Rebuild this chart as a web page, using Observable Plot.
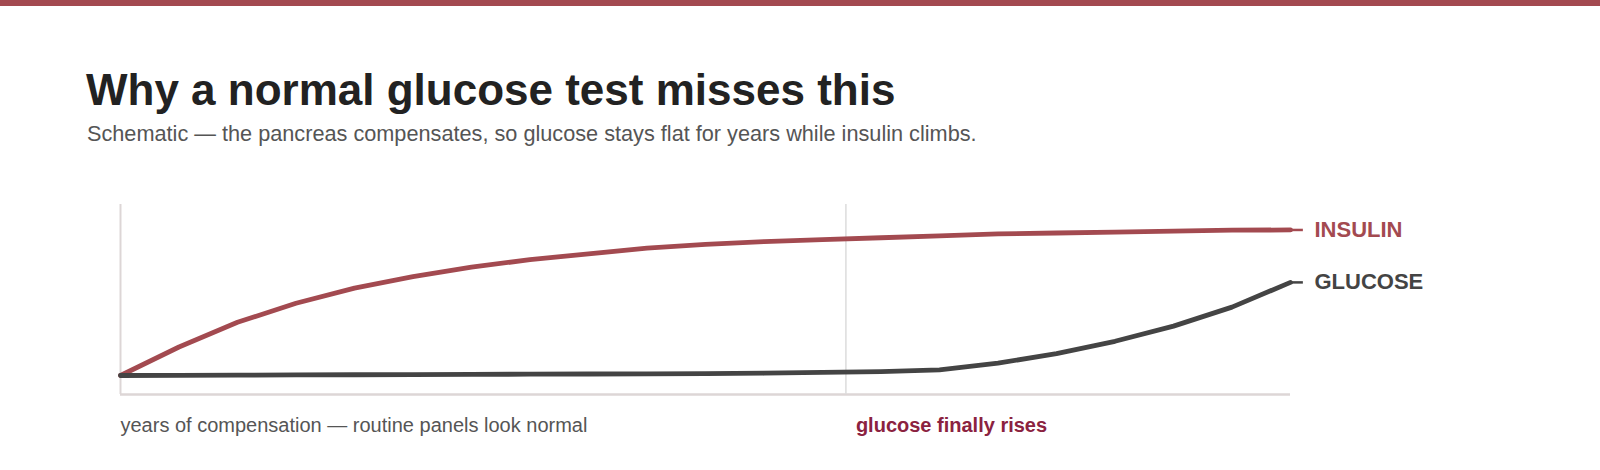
<!DOCTYPE html>
<html>
<head>
<meta charset="utf-8">
<script src="https://cdn.jsdelivr.net/npm/d3@7"></script>
<script src="https://cdn.jsdelivr.net/npm/@observablehq/plot@0.6"></script>
<style>
  html, body { margin: 0; padding: 0; background: #fff; width: 1600px; height: 470px; overflow: hidden; }
  body { font-family: "Liberation Sans", Arial, sans-serif; }
  .bar { height: 6px; background: #a34a50; }
  h1 { position: absolute; left: 86px; top: 65px; margin: 0; font-size: 44px; line-height: normal; font-weight: 700; color: #222; }
  .sub { position: absolute; left: 87px; top: 121px; margin: 0; font-size: 21.7px; line-height: normal; color: #555; }
  #chart { position: absolute; left: 0; top: 170px; }
</style>
</head>
<body>
<div class="bar"></div>
<h1>Why a normal glucose test misses this</h1>
<p class="sub">Schematic — the pancreas compensates, so glucose stays flat for years while insulin climbs.</p>
<div id="chart"></div>
<script>
// time (schematic units, 0–100)
const xs = [0, 5, 10, 15, 20, 25, 30, 35, 40, 45, 50, 55, 60, 65, 70, 75, 80, 85, 90, 95, 100];
const insulin = [10, 25, 38, 48, 56, 62, 67, 71, 74, 77, 79, 80.5, 81.5, 82.5, 83.5, 84.5, 85, 85.5, 86, 86.5, 86.6];
const glucose = [10, 10.1, 10.2, 10.3, 10.4, 10.5, 10.6, 10.7, 10.8, 10.9, 11, 11.2, 11.6, 12, 13, 16.5, 21.5, 28, 36, 46, 59];
const seriesNames = ["INSULIN", "GLUCOSE"];
const seriesColors = ["#a34a50", "#444444"];
const turnX = 62;
const leftNote = "years of compensation — routine panels look normal";
const rightNote = "glucose finally rises";

const rows = [];
xs.forEach((x, i) => {
  rows.push({x, v: insulin[i], s: seriesNames[0]});
  rows.push({x, v: glucose[i], s: seriesNames[1]});
});
const ends = seriesNames.map((s, k) => ({s, x: xs[xs.length - 1], v: (k === 0 ? insulin : glucose)[xs.length - 1]}));

const chart = Plot.plot({
  width: 1600,
  height: 300,
  marginLeft: 120,
  marginRight: 310,
  marginTop: 34,
  marginBottom: 76,
  style: {fontFamily: "'Liberation Sans', Arial, sans-serif", background: "transparent"},
  x: {domain: [0, 100], axis: null},
  y: {domain: [0, 100], axis: null},
  color: {domain: seriesNames, range: seriesColors},
  marks: [
    Plot.ruleX([0], {stroke: "#ddd6d6", strokeWidth: 2}),
    Plot.ruleY([0], {stroke: "#ddd6d6", strokeWidth: 2.5}),
    Plot.ruleX([turnX], {stroke: "#dcdcdc", strokeWidth: 1.5}),
    Plot.line(rows, {x: "x", y: "v", z: "s", stroke: "s", strokeWidth: 4.8, curve: "linear"}),
    Plot.ruleY(ends, {y: "v", x1: "x", x2: d => d.x + 1.1, stroke: "s", strokeWidth: 2.5}),
    Plot.text(ends, {x: "x", y: "v", text: "s", fill: "s", dx: 24, textAnchor: "start", fontSize: 22, fontWeight: "bold"}),
    Plot.text([leftNote], {x: 0, y: 0, text: d => d, dy: 31, textAnchor: "start", fontSize: 20, fill: "#555"}),
    Plot.text([rightNote], {x: turnX, y: 0, text: d => d, dx: 10, dy: 31, textAnchor: "start", fontSize: 20, fontWeight: "bold", fill: "#8b2240"})
  ]
});
document.getElementById("chart").appendChild(chart);
</script>
</body>
</html>
